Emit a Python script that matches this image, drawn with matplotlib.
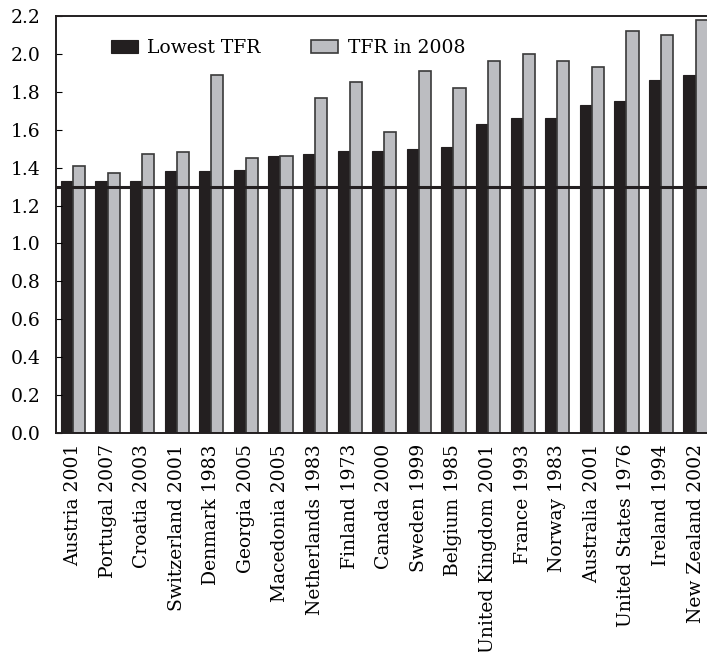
import numpy as np
import matplotlib.pyplot as plt

countries = ['Austria 2001', 'Portugal 2007', 'Croatia 2003', 'Switzerland 2001',
             'Denmark 1983', 'Georgia 2005', 'Macedonia 2005', 'Netherlands 1983',
             'Finland 1973', 'Canada 2000', 'Sweden 1999', 'Belgium 1985',
             'United Kingdom 2001', 'France 1993', 'Norway 1983', 'Australia 2001',
             'United States 1976', 'Ireland 1994', 'New Zealand 2002']
lowest_tfr = [1.33, 1.33, 1.33, 1.38, 1.38, 1.39, 1.46, 1.47, 1.49, 1.49,
              1.50, 1.51, 1.63, 1.66, 1.66, 1.73, 1.75, 1.86, 1.89]
tfr_2008 = [1.41, 1.37, 1.47, 1.48, 1.89, 1.45, 1.46, 1.77, 1.85, 1.59,
            1.91, 1.82, 1.96, 2.00, 1.96, 1.93, 2.12, 2.10, 2.18]
threshold = 1.3

plt.rcParams['font.family'] = 'DejaVu Serif'

fig = plt.figure(figsize=(7.07, 6.52), dpi=100)
ax = fig.add_axes([56 / 707, 219 / 652, 651 / 707, 417 / 652])

x = np.arange(len(countries))
w = 0.35
ax.bar(x - w / 2, lowest_tfr, w, color='#231f20', edgecolor='#231f20',
       linewidth=0.8, label='Lowest TFR')
ax.bar(x + w / 2, tfr_2008, w, color='#bcbdc1', edgecolor='#3a3a3a',
       linewidth=1.2, label='TFR in 2008')
ax.axhline(threshold, color='#231f20', linewidth=2.2, zorder=3)

ax.set_xlim(-0.49, 18.33)
ax.set_ylim(0, 2.2)
ax.set_yticks(np.arange(0, 2.21, 0.2))
ax.set_yticklabels([f'{v:.1f}' for v in np.arange(0, 2.21, 0.2)])
ax.set_xticks(x)
ax.set_xticklabels(countries, rotation=90)
ax.tick_params(axis='y', direction='in', length=4, pad=11, labelsize=13.5)
ax.tick_params(axis='x', length=0, pad=8, labelsize=13.5)
ax.spines['right'].set_visible(False)
for s in ['left', 'top', 'bottom']:
    ax.spines[s].set_linewidth(1.4)
    ax.spines[s].set_color('#231f20')

ax.legend(ncol=2, frameon=False, loc='upper left', bbox_to_anchor=(0.058, 0.985),
          fontsize=13.5, handlelength=1.45, handleheight=0.75, columnspacing=2.7,
          handletextpad=0.5)

fig.savefig('out.png', dpi=100)
